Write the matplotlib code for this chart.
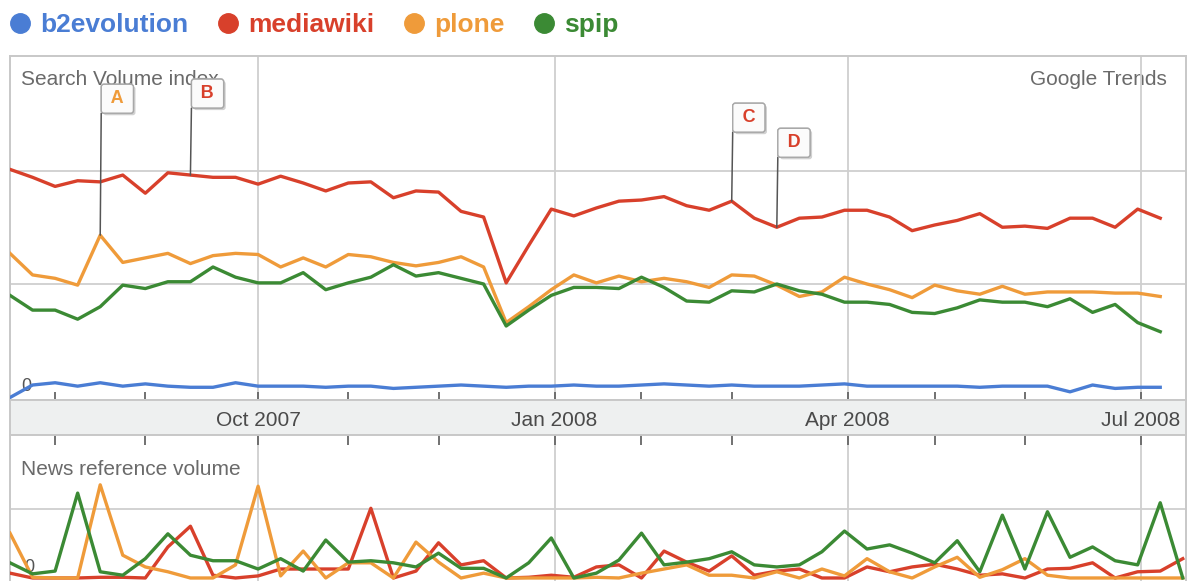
import numpy as np
import pandas as pd
import matplotlib
matplotlib.use('Agg')
import matplotlib.pyplot as plt
import matplotlib.patheffects as pe
from matplotlib.lines import Line2D

plt.rcParams['font.family'] = ['Liberation Sans', 'DejaVu Sans']

# ------------------------------------------------------------------------
# data (weekly; 1.0 = one grid step)
weeks = pd.date_range('2007-07-16', periods=52, freq='7D')
news_weeks = pd.date_range('2007-07-16', periods=53, freq='7D')

names = ['b2evolution', 'mediawiki', 'plone', 'spip']
colors = ['#4a7dd4', '#d8402b', '#ef9b3a', '#3b8a34']

b2evolution = [0.00, 0.11, 0.13, 0.10, 0.13, 0.10, 0.12, 0.10, 0.09, 0.09,
               0.13, 0.10, 0.10, 0.10, 0.09, 0.10, 0.10, 0.08, 0.09, 0.10,
               0.11, 0.10, 0.09, 0.10, 0.10, 0.11, 0.10, 0.10, 0.11, 0.12,
               0.11, 0.10, 0.11, 0.10, 0.10, 0.10, 0.11, 0.12, 0.10, 0.10,
               0.10, 0.10, 0.10, 0.09, 0.10, 0.10, 0.10, 0.05, 0.11, 0.08,
               0.09, 0.09]
mediawiki = [2.01, 1.94, 1.86, 1.91, 1.90, 1.96, 1.80, 1.98, 1.96, 1.94,
             1.94, 1.88, 1.95, 1.89, 1.82, 1.89, 1.90, 1.76, 1.82, 1.81,
             1.64, 1.59, 1.01, 1.34, 1.66, 1.60, 1.67, 1.73, 1.74, 1.77,
             1.69, 1.65, 1.73, 1.58, 1.50, 1.58, 1.59, 1.65, 1.65, 1.59,
             1.47, 1.52, 1.56, 1.62, 1.50, 1.51, 1.49, 1.58, 1.58, 1.50,
             1.66, 1.58]
plone = [1.27, 1.08, 1.05, 0.99, 1.43, 1.19, 1.23, 1.27, 1.18, 1.25,
         1.27, 1.26, 1.15, 1.23, 1.15, 1.26, 1.24, 1.19, 1.16, 1.19,
         1.24, 1.15, 0.66, 0.80, 0.95, 1.08, 1.01, 1.07, 1.02, 1.05,
         1.02, 0.97, 1.08, 1.07, 0.99, 0.89, 0.93, 1.06, 1.00, 0.95,
         0.88, 0.99, 0.94, 0.91, 0.98, 0.91, 0.93, 0.93, 0.93, 0.92,
         0.92, 0.89]
spip = [0.90, 0.77, 0.77, 0.69, 0.80, 0.99, 0.96, 1.02, 1.02, 1.15,
        1.06, 1.01, 1.01, 1.10, 0.95, 1.01, 1.06, 1.17, 1.07, 1.10,
        1.05, 1.00, 0.63, 0.77, 0.90, 0.97, 0.97, 0.96, 1.06, 0.97,
        0.85, 0.84, 0.94, 0.93, 1.00, 0.94, 0.91, 0.84, 0.84, 0.82,
        0.75, 0.74, 0.79, 0.86, 0.84, 0.84, 0.80, 0.87, 0.75, 0.82,
        0.66, 0.58]

news_mediawiki = [0.07, 0.00, 0.00, 0.00, 0.01, 0.01, 0.00, 0.45, 0.75, 0.04,
                  0.00, 0.03, 0.13, 0.13, 0.13, 0.13, 1.01, 0.00, 0.10, 0.51,
                  0.19, 0.25, 0.00, 0.01, 0.04, 0.01, 0.16, 0.19, 0.00, 0.39,
                  0.23, 0.10, 0.32, 0.04, 0.10, 0.13, 0.00, 0.00, 0.16, 0.09,
                  0.16, 0.20, 0.13, 0.04, 0.06, 0.00, 0.13, 0.14, 0.22, 0.00,
                  0.09, 0.10, 0.28]
news_plone = [0.65, 0.01, 0.00, 0.00, 1.35, 0.33, 0.16, 0.09, 0.00, 0.00,
              0.19, 1.33, 0.03, 0.39, 0.00, 0.22, 0.22, 0.00, 0.52, 0.23,
              0.00, 0.07, 0.00, 0.00, 0.00, 0.00, 0.01, 0.00, 0.07, 0.13,
              0.19, 0.04, 0.04, 0.00, 0.09, 0.00, 0.13, 0.03, 0.28, 0.09,
              0.00, 0.16, 0.30, 0.01, 0.12, 0.28, 0.04, 0.00, 0.00, 0.00,
              0.00, 0.00, 0.00]
news_spip = [0.22, 0.06, 0.10, 1.23, 0.09, 0.04, 0.28, 0.64, 0.33, 0.25,
             0.25, 0.13, 0.28, 0.10, 0.55, 0.23, 0.25, 0.22, 0.16, 0.36,
             0.14, 0.14, 0.00, 0.22, 0.58, 0.00, 0.07, 0.26, 0.65, 0.19,
             0.23, 0.28, 0.38, 0.19, 0.16, 0.19, 0.38, 0.68, 0.42, 0.48,
             0.36, 0.22, 0.54, 0.09, 0.91, 0.13, 0.96, 0.30, 0.45, 0.25,
             0.19, 1.09, 0.00]

quarter_ticks = pd.to_datetime(['2007-10-01', '2008-01-01', '2008-04-01', '2008-07-01'])
quarter_labels = ['Oct 2007', 'Jan 2008', 'Apr 2008', 'Jul 2008']
minor_ticks = pd.to_datetime(['2007-07-30', '2007-08-27', '2007-10-29', '2007-11-26',
                              '2008-01-28', '2008-02-25', '2008-04-28', '2008-05-26'])

# flags: (letter, series index, week index, height of the pole in px)
flags = [('A', 2, 4, 122), ('B', 1, 8, 67), ('C', 1, 32, 69), ('D', 1, 34, 70)]

# ------------------------------------------------------------------------
W, H = 1188, 581
fig = plt.figure(figsize=(W / 100, H / 100), dpi=100)
fig.patch.set_facecolor('white')

def box(top, bottom):
    return [10 / W, (H - bottom) / H, 1176 / W, (bottom - top) / H]

ax = fig.add_axes(box(56, 400))
band = fig.add_axes(box(400, 435), sharex=ax)
news = fig.add_axes(box(435, 600), sharex=ax)

xmin, xmax = pd.Timestamp('2007-07-16'), pd.Timestamp('2008-07-15')
grid_c = '#cfcfcf'
text_c = '#6a6a6a'

for a in (ax, band, news):
    for s in a.spines.values():
        s.set_color('#c8c8c8')
        s.set_linewidth(1.4)
    a.set_xlim(xmin, xmax)
    a.tick_params(labelbottom=False, labelleft=False, left=False)

# main search volume panel
series = [b2evolution, mediawiki, plone, spip]
for vals, c in zip(series, colors):
    ax.plot(weeks, vals, color=c, lw=2.4, solid_joinstyle='round', zorder=3)
ax.set_ylim(-0.022, 3.009)
ax.set_yticks([1, 2])
ax.set_xticks(quarter_ticks)
ax.set_xticks(minor_ticks, minor=True)
ax.grid(True, which='major', color=grid_c, lw=1.3, zorder=0)
ax.tick_params(axis='x', which='both', direction='in', length=6, width=1.3,
               color='#666666', bottom=True, top=False)
ax.text(0.009, 0.932, 'Search Volume index', transform=ax.transAxes, fontsize=15,
        color=text_c, va='center', ha='left', zorder=1)
ax.text(0.984, 0.932, 'Google Trends', transform=ax.transAxes, fontsize=15,
        color=text_c, va='center', ha='right', zorder=1)
ax.annotate('0', xy=(0, 0), xycoords=('axes fraction', 'data'), xytext=(11, 3),
            textcoords='offset pixels', fontsize=13, color='#555555', va='bottom', zorder=2)

for letter, si, wi, pole in flags:
    pt = (weeks[wi], series[si][wi])
    # pole
    ax.annotate('', xy=pt, xytext=(1, pole), textcoords='offset pixels', zorder=4,
                arrowprops=dict(arrowstyle='-', color='#555555', lw=1.1,
                                shrinkA=0, shrinkB=0))
    # flag box, left edge on the pole
    t = ax.annotate('\u2009' + letter + '\u2009', xy=pt, xytext=(7, pole + 6),
                    textcoords='offset pixels', ha='left', va='bottom', fontsize=13,
                    fontweight='bold', color=colors[si], zorder=5,
                    bbox=dict(boxstyle='round,pad=0.33,rounding_size=0.15', fc='#fbfbfb',
                              ec='#a8a8a8', lw=1.0))
    t.get_bbox_patch().set_path_effects([pe.withSimplePatchShadow(offset=(1.5, -1.5),
                                                                  alpha=0.25), pe.Normal()])

# date band
band.set_facecolor('#eef0f0')
band.set_ylim(0, 1)
band.set_xticks([])
band.tick_params(bottom=False)
for d, lab in zip(quarter_ticks, quarter_labels):
    band.text(d, 0.42, lab, ha='center', va='center', fontsize=15, color='#4a4a4a')

# news reference panel
for vals, c in zip([news_mediawiki, news_plone, news_spip], colors[1:]):
    news.plot(news_weeks, vals, color=c, lw=2.4, solid_joinstyle='round', zorder=3)
news.set_ylim(-0.319, 2.072)
news.set_yticks([1])
news.set_xticks(quarter_ticks)
news.set_xticks(minor_ticks, minor=True)
news.grid(True, which='major', color=grid_c, lw=1.3, zorder=0)
news.tick_params(axis='x', which='both', direction='in', length=7, width=1.3,
                 color='#666666', bottom=False, top=True)
news.text(0.009, 0.79, 'News reference volume', transform=news.transAxes, fontsize=15,
          color=text_c, va='center', ha='left')
news.annotate('0', xy=(0, 0), xycoords=('axes fraction', 'data'), xytext=(14, 2),
              textcoords='offset pixels', fontsize=13, color='#555555', va='bottom', zorder=2)

# legend
handles = [Line2D([], [], ls='none', marker='o', ms=14, mfc=c, mec=c) for c in colors]
fig.legend(handles, names, loc='center left', bbox_to_anchor=(10 / W, 1 - 25 / H),
           ncol=4, frameon=False, handlelength=0.75, handletextpad=0.38,
           columnspacing=1.14, borderpad=0, borderaxespad=0, labelcolor='markerfacecolor',
           prop=dict(size=19, weight='bold'))

fig.savefig('out.png', dpi=100, facecolor='white')
